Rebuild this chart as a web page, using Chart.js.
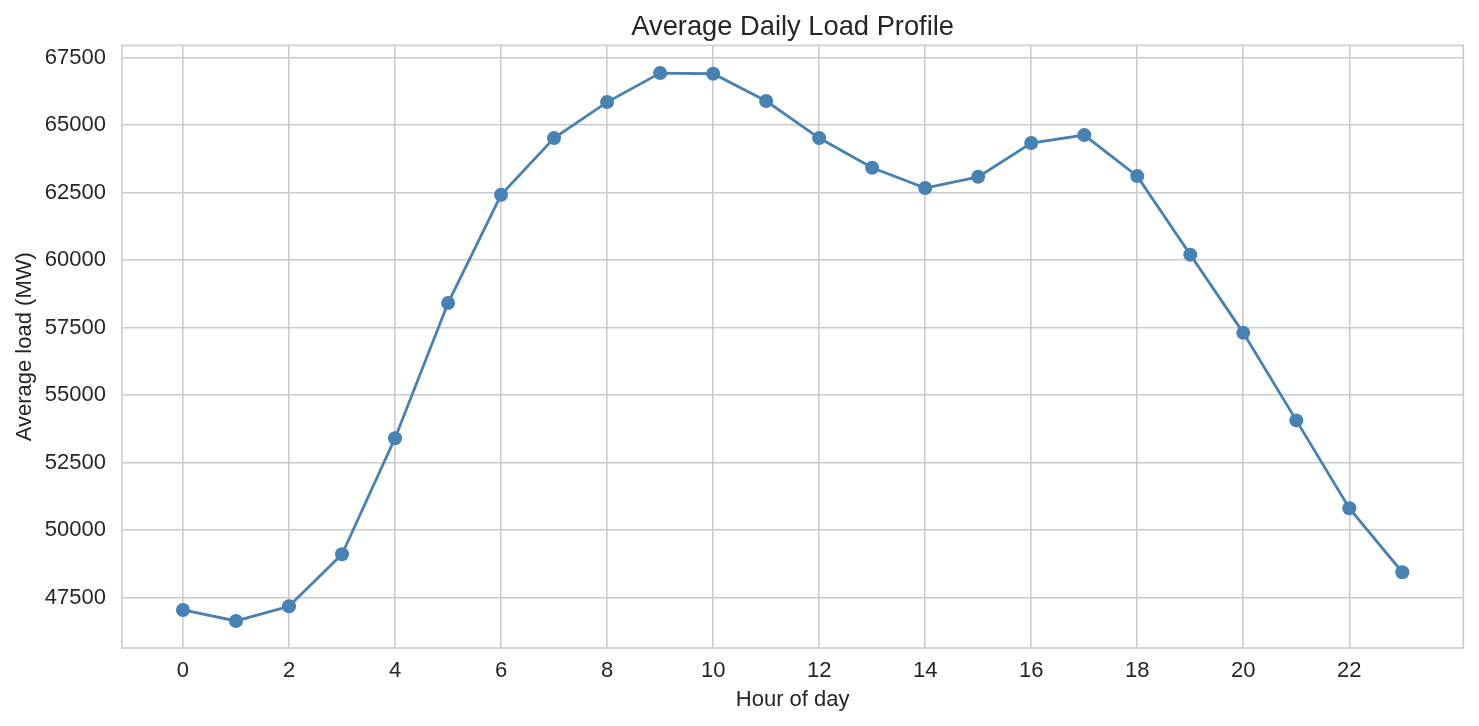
<!DOCTYPE html>
<html>
<head>
<meta charset="utf-8">
<script src="https://cdn.jsdelivr.net/npm/chart.js@4/dist/chart.umd.min.js"></script>
<style>
  html, body { margin: 0; padding: 0; background: #ffffff; }
  #wrap { width: 1479px; height: 726px; }
</style>
</head>
<body>
<div id="wrap"><canvas id="c" width="1479" height="726"></canvas></div>
<script>
// ---- data ----
const hours = [0,1,2,3,4,5,6,7,8,9,10,11,12,13,14,15,16,17,18,19,20,21,22,23];
const avgLoad = [47044, 46637, 47180, 49107, 53404, 58408, 62415, 64515, 65848, 66922, 66896, 65885,
                 64515, 63415, 62663, 63081, 64330, 64626, 63107, 60200, 57304, 54063, 50811, 48441];
const xTicks = [0,2,4,6,8,10,12,14,16,18,20,22];
const yTicks = [47500,50000,52500,55000,57500,60000,62500,65000,67500];
const chartTitle = 'Average Daily Load Profile';
const xTitle = 'Hour of day';
const yTitle = 'Average load (MW)';

const FONT = "'Liberation Sans', Arial, sans-serif";
const TEXT = '#262626';
const GRID = '#cccccc';

const frame = {
  id: 'frame',
  beforeDatasetsDraw(chart) {
    const {ctx, chartArea: a} = chart;
    ctx.save();
    ctx.strokeStyle = GRID;
    ctx.lineWidth = 1.6;
    ctx.strokeRect(a.left, a.top, a.right - a.left, a.bottom - a.top);
    ctx.restore();
  }
};

new Chart(document.getElementById('c'), {
  type: 'line',
  data: {
    datasets: [{
      data: hours.map((h, i) => ({x: h, y: avgLoad[i]})),
      borderColor: '#4682b4',
      backgroundColor: '#4682b4',
      borderWidth: 2.8,
      pointRadius: 7,
      pointBorderWidth: 0,
      pointBackgroundColor: '#4682b4',
      tension: 0,
      fill: false
    }]
  },
  plugins: [frame],
  options: {
    responsive: false,
    devicePixelRatio: 1,
    animation: false,
    layout: { padding: { left: 0, right: 15.7, top: 0, bottom: 0 } },
    plugins: {
      legend: { display: false },
      tooltip: { enabled: false },
      title: {
        display: true,
        fullSize: false,
        text: chartTitle,
        color: TEXT,
        font: { family: FONT, size: 27.3, weight: 'normal', lineHeight: 1.2 },
        padding: { top: 11.5, bottom: 1.2 }
      }
    },
    scales: {
      x: {
        type: 'linear',
        min: -1.15,
        max: 24.15,
        afterBuildTicks: s => { s.ticks = xTicks.map(v => ({value: v})); },
        afterFit: s => { s.height = 78; },
        grid: { color: GRID, lineWidth: 1.6, drawTicks: false },
        border: { display: false },
        ticks: {
          color: TEXT, padding: 10, maxRotation: 0, autoSkip: false,
          font: { family: FONT, size: 22, lineHeight: 1.2 },
          callback: v => String(v)
        },
        title: {
          display: true, text: xTitle, color: TEXT,
          font: { family: FONT, size: 22, lineHeight: 1.2 },
          padding: { top: 0, bottom: 12.5 }
        }
      },
      y: {
        type: 'linear',
        min: 45636,
        max: 67944,
        afterBuildTicks: s => { s.ticks = yTicks.map(v => ({value: v})); },
        afterFit: s => { s.width = 122; },
        grid: { color: GRID, lineWidth: 1.6, drawTicks: false },
        border: { display: false },
        ticks: {
          color: TEXT, padding: 16, autoSkip: false,
          font: { family: FONT, size: 22, lineHeight: 1.2 },
          callback: v => String(v)
        },
        title: {
          display: true, text: yTitle, color: TEXT,
          font: { family: FONT, size: 22, lineHeight: 1.2 },
          padding: { top: 12, bottom: 0 }
        }
      }
    }
  }
});
</script>
</body>
</html>
